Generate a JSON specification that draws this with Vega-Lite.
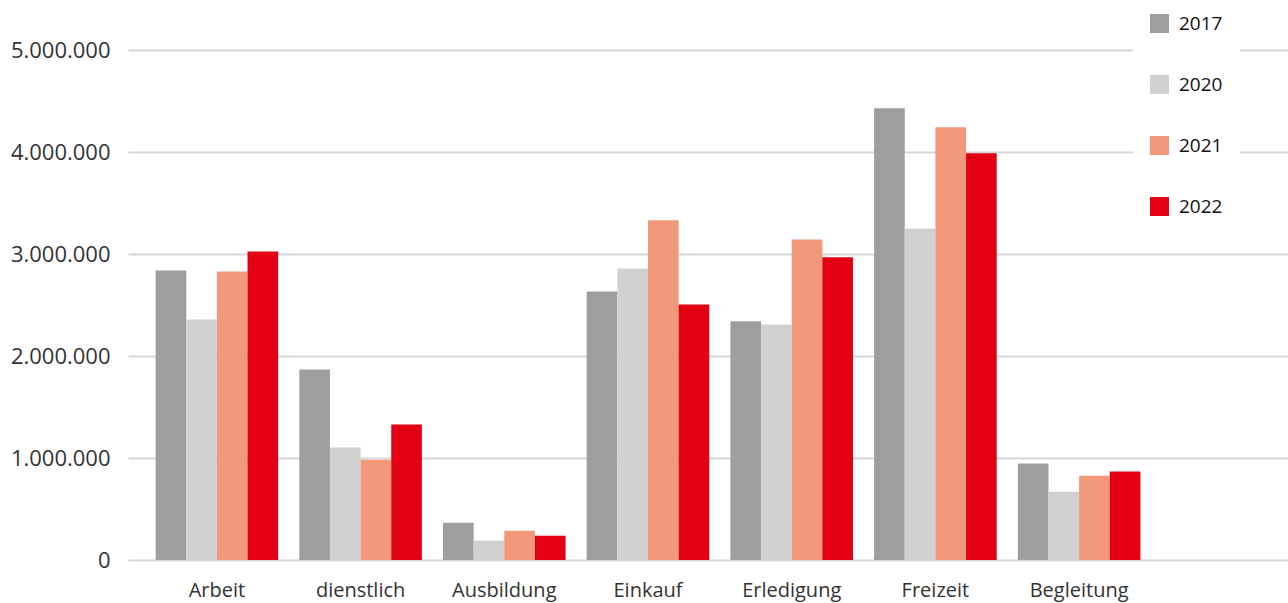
{
  "$schema": "https://vega.github.io/schema/vega-lite/v6.json",
  "width": 1160,
  "height": 510,
  "autosize": {"type": "none"},
  "padding": {"left": 128, "top": 50, "right": 0, "bottom": 43},
  "background": "white",
  "config": {
    "locale": {
      "number": {"decimal": ",", "thousands": ".", "grouping": [3], "currency": ["", " €"]}
    },
    "font": "Open Sans",
    "view": {"stroke": null}
  },
  "data": {
    "values": [
      {"zweck": "Arbeit", "jahr": "2017", "wege": 2839000},
      {"zweck": "Arbeit", "jahr": "2020", "wege": 2358000},
      {"zweck": "Arbeit", "jahr": "2021", "wege": 2829000},
      {"zweck": "Arbeit", "jahr": "2022", "wege": 3025000},
      {"zweck": "dienstlich", "jahr": "2017", "wege": 1867000},
      {"zweck": "dienstlich", "jahr": "2020", "wege": 1102000},
      {"zweck": "dienstlich", "jahr": "2021", "wege": 984000},
      {"zweck": "dienstlich", "jahr": "2022", "wege": 1328000},
      {"zweck": "Ausbildung", "jahr": "2017", "wege": 366000},
      {"zweck": "Ausbildung", "jahr": "2020", "wege": 190000},
      {"zweck": "Ausbildung", "jahr": "2021", "wege": 287000},
      {"zweck": "Ausbildung", "jahr": "2022", "wege": 238000},
      {"zweck": "Einkauf", "jahr": "2017", "wege": 2633000},
      {"zweck": "Einkauf", "jahr": "2020", "wege": 2859000},
      {"zweck": "Einkauf", "jahr": "2021", "wege": 3330000},
      {"zweck": "Einkauf", "jahr": "2022", "wege": 2505000},
      {"zweck": "Erledigung", "jahr": "2017", "wege": 2340000},
      {"zweck": "Erledigung", "jahr": "2020", "wege": 2310000},
      {"zweck": "Erledigung", "jahr": "2021", "wege": 3143000},
      {"zweck": "Erledigung", "jahr": "2022", "wege": 2967000},
      {"zweck": "Freizeit", "jahr": "2017", "wege": 4430000},
      {"zweck": "Freizeit", "jahr": "2020", "wege": 3251000},
      {"zweck": "Freizeit", "jahr": "2021", "wege": 4243000},
      {"zweck": "Freizeit", "jahr": "2022", "wege": 3988000},
      {"zweck": "Begleitung", "jahr": "2017", "wege": 945000},
      {"zweck": "Begleitung", "jahr": "2020", "wege": 670000},
      {"zweck": "Begleitung", "jahr": "2021", "wege": 827000},
      {"zweck": "Begleitung", "jahr": "2022", "wege": 867000}
    ]
  },
  "mark": {"type": "bar"},
  "encoding": {
    "x": {
      "field": "zweck",
      "type": "nominal",
      "sort": null,
      "title": null,
      "scale": {"paddingInner": 0.147, "paddingOuter": 0.6096, "align": 0.1575},
      "axis": {
        "domain": false,
        "ticks": false,
        "grid": false,
        "labelAngle": 0,
        "labelFontSize": 20,
        "labelColor": "#333333",
        "labelPadding": 20
      }
    },
    "xOffset": {
      "field": "jahr",
      "type": "nominal",
      "scale": {"paddingInner": 0, "paddingOuter": 0}
    },
    "y": {
      "field": "wege",
      "type": "quantitative",
      "title": null,
      "scale": {"domain": [0, 5000000], "nice": false},
      "axis": {
        "values": [0, 1000000, 2000000, 3000000, 4000000, 5000000],
        "format": ",d",
        "domain": false,
        "ticks": false,
        "grid": true,
        "gridColor": "#d6d6d6",
        "gridWidth": 2,
        "labelFontSize": 22,
        "labelColor": "#333333",
        "labelPadding": 18
      }
    },
    "color": {
      "field": "jahr",
      "type": "nominal",
      "title": null,
      "scale": {
        "domain": ["2017", "2020", "2021", "2022"],
        "range": ["#9d9e9d", "#d0d1d0", "#f2997b", "#e30012"]
      },
      "legend": {
        "orient": "none",
        "legendX": 1005,
        "legendY": -53,
        "padding": 17,
        "fillColor": "white",
        "symbolType": "square",
        "symbolSize": 361,
        "symbolStrokeWidth": 0,
        "symbolOpacity": 1,
        "labelFontSize": 19,
        "labelColor": "#111111",
        "labelOffset": 10,
        "rowPadding": 41
      }
    }
  }
}
